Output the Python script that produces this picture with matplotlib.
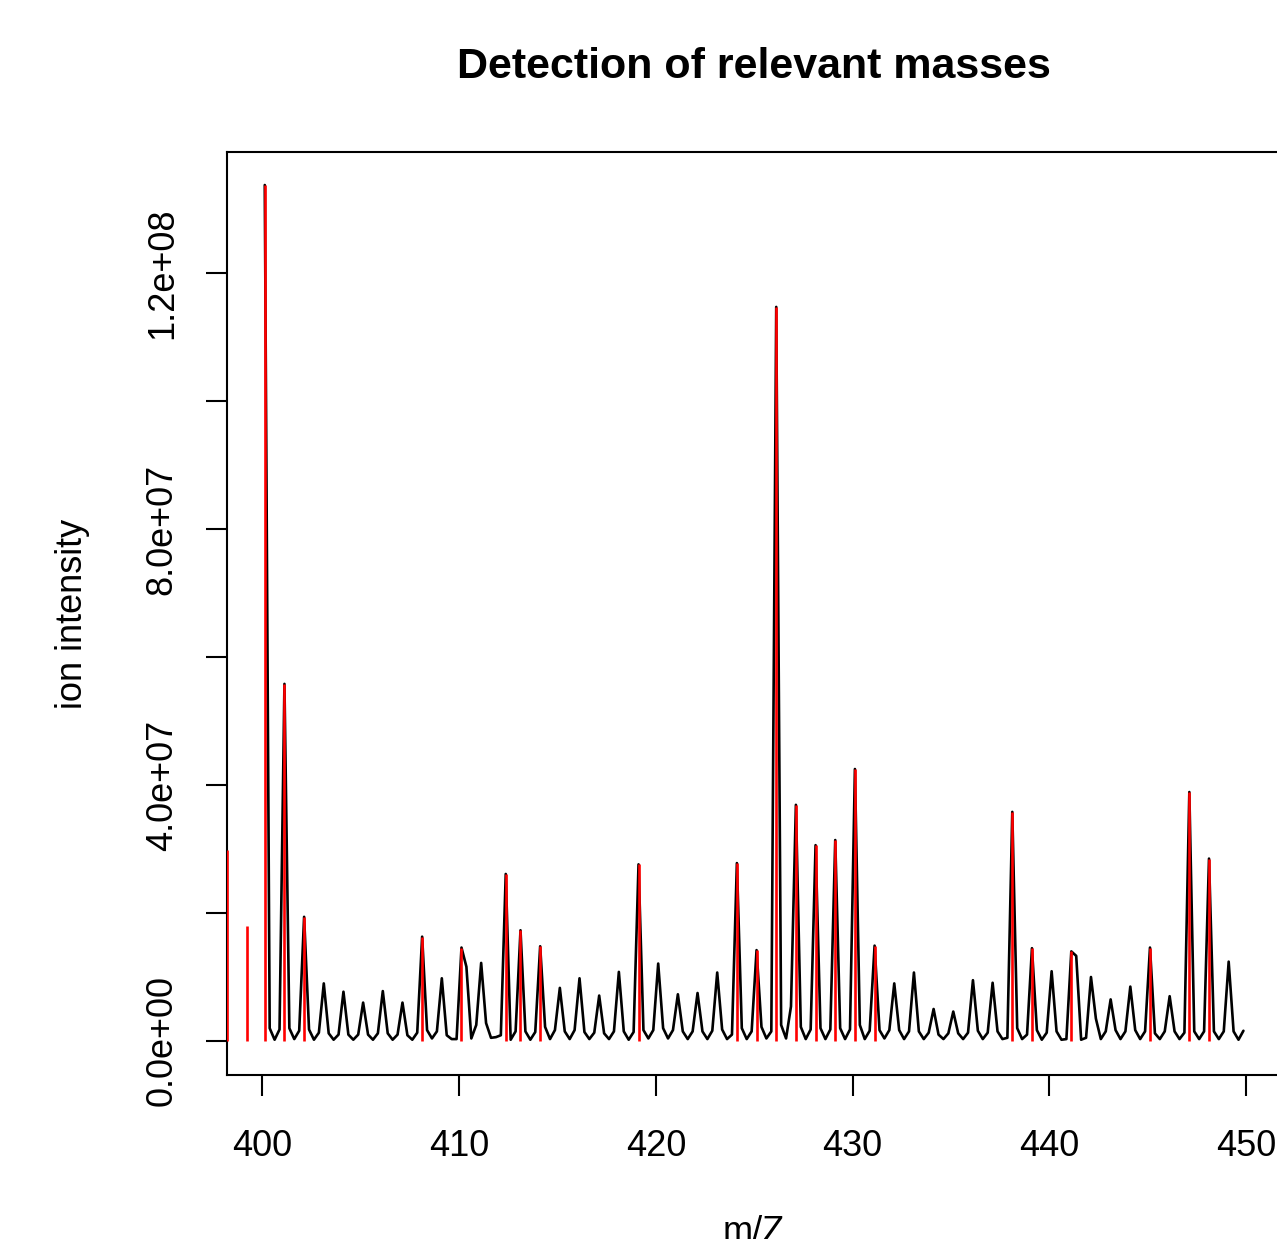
import numpy as np
import matplotlib
matplotlib.use("Agg")
import matplotlib.pyplot as plt
from matplotlib.ticker import FixedLocator, FuncFormatter

plt.rcParams['font.family'] = ['Liberation Sans', 'DejaVu Sans']

# ---------------- data ----------------
# profile spectrum sampled every 0.25 m/z, starting at 400.12
mz_start = 400.12
mz_step = 0.25
# intensities (units of 1e6) grouped per nominal mass 400 .. 449, 4 samples each
intensity_groups = [
    [133.75, 2.0, 0.2, 1.8],   # 400
    [55.8, 2.0, 0.3, 1.6],     # 401
    [19.4, 1.8, 0.2, 1.3],     # 402
    [9.0, 1.2, 0.2, 1.0],      # 403
    [7.7, 1.0, 0.2, 1.0],      # 404
    [6.0, 1.0, 0.2, 1.2],      # 405
    [7.8, 1.2, 0.2, 1.0],      # 406
    [6.0, 0.9, 0.2, 1.3],      # 407
    [16.3, 1.7, 0.4, 1.5],     # 408
    [9.8, 0.9, 0.3, 0.3],      # 409
    [14.6, 11.6, 0.4, 2.5],    # 410
    [12.2, 2.8, 0.5, 0.6],     # 411
    [0.9, 26.1, 0.2, 1.5],     # 412
    [17.3, 1.5, 0.2, 1.4],     # 413
    [14.8, 2.2, 0.3, 1.7],     # 414
    [8.3, 1.5, 0.3, 1.7],      # 415
    [9.8, 1.4, 0.3, 1.3],      # 416
    [7.1, 1.2, 0.3, 1.5],      # 417
    [10.8, 1.5, 0.2, 1.4],     # 418
    [27.6, 1.7, 0.4, 1.7],     # 419
    [12.1, 2.0, 0.4, 1.7],     # 420
    [7.3, 1.5, 0.3, 1.5],      # 421
    [7.5, 1.5, 0.3, 1.6],      # 422
    [10.7, 1.8, 0.3, 1.0],     # 423
    [27.8, 2.0, 0.3, 1.5],     # 424
    [14.2, 2.2, 0.4, 1.5],     # 425
    [114.7, 2.5, 0.4, 5.4],    # 426
    [36.9, 2.2, 0.3, 1.8],     # 427
    [30.6, 2.0, 0.3, 1.8],     # 428
    [31.4, 2.0, 0.3, 1.8],     # 429
    [42.5, 2.5, 0.3, 1.6],     # 430
    [14.9, 1.7, 0.4, 1.7],     # 431
    [9.0, 1.7, 0.3, 1.5],      # 432
    [10.7, 1.5, 0.3, 1.3],     # 433
    [5.0, 1.0, 0.3, 1.2],      # 434
    [4.6, 1.2, 0.3, 1.3],      # 435
    [9.5, 1.6, 0.3, 1.3],      # 436
    [9.1, 1.5, 0.3, 0.5],      # 437
    [35.8, 2.0, 0.3, 1.0],     # 438
    [14.5, 1.7, 0.2, 1.3],     # 439
    [10.9, 1.5, 0.2, 0.3],     # 440
    [14.0, 13.3, 0.2, 0.5],    # 441
    [10.0, 3.5, 0.3, 1.5],     # 442
    [6.5, 1.7, 0.3, 1.5],      # 443
    [8.5, 1.7, 0.3, 1.5],      # 444
    [14.6, 1.2, 0.3, 1.5],     # 445
    [7.0, 1.5, 0.3, 1.3],      # 446
    [38.9, 1.5, 0.3, 1.5],     # 447
    [28.5, 1.5, 0.3, 1.5],     # 448
    [12.4, 1.5, 0.2, 1.6],     # 449
]

# detected relevant masses (red sticks)
relevant_mz = [398.22, 399.2, 400.12, 401.12, 402.12, 408.12, 410.12, 412.37,
               413.12, 414.12, 419.12, 424.12, 425.12, 426.12, 427.12, 428.12,
               429.12, 430.12, 431.12, 438.12, 439.12, 441.12, 445.12, 447.12,
               448.12]
relevant_int = [29.8, 18.0, 133.75, 55.8, 19.4, 16.3, 14.6, 26.1,
                17.3, 14.8, 27.6, 27.8, 14.2, 114.7, 36.9, 30.6,
                31.4, 42.5, 14.9, 35.8, 14.5, 14.0, 14.6, 38.9,
                28.5]

x_ticks = [400, 410, 420, 430, 440, 450]
y_ticks = [0, 2e7, 4e7, 6e7, 8e7, 1e8, 1.2e8]
y_labelled = [0, 4e7, 8e7, 1.2e8]

title = "Detection of relevant masses"
xlabel = "m/Z"
ylabel = "ion intensity"

# ---------------- build ----------------
intens = np.array(intensity_groups).ravel() * 1e6
mz = mz_start + mz_step * np.arange(len(intens))
rel_int = np.array(relevant_int) * 1e6

W, H = 1277, 1239
fig = plt.figure(figsize=(W / 100, H / 100), dpi=100)
fig.patch.set_facecolor("white")
ax = fig.add_axes([227 / W, (H - 1075) / H, (1281 - 227) / W, (1075 - 152) / H])

ax.plot(mz, intens, color="black", lw=1.9, solid_joinstyle="round",
        solid_capstyle="round", zorder=2)
ax.vlines(relevant_mz, 0, rel_int, color="#ff0000", lw=1.9, zorder=3)

ax.set_xlim(398.2, 451.78)
ax.set_ylim(-34 / 6.4 * 1e6, (1041 - 152) / 6.4 * 1e6)

ax.xaxis.set_major_locator(FixedLocator(x_ticks))
ax.yaxis.set_major_locator(FixedLocator(y_ticks))
ax.xaxis.set_major_formatter(FuncFormatter(lambda v, p: f"{v:.0f}"))


def yfmt(v, p):
    if any(abs(v - t) < 1 for t in y_labelled):
        return f"{v:.1e}"
    return ""


ax.yaxis.set_major_formatter(FuncFormatter(yfmt))

for sp in ax.spines.values():
    sp.set_linewidth(1.5)
ax.tick_params(axis="both", direction="out", length=15, width=1.5,
               labelsize=26, color="black")
ax.tick_params(axis="x", pad=24)
ax.tick_params(axis="y", pad=19, labelrotation=90)
for lab in ax.get_yticklabels():
    lab.set_verticalalignment("center")

ax.set_title(title, fontsize=31, fontweight="bold", y=1.080, pad=0)
ax.set_xlabel(xlabel, fontsize=26)
ax.xaxis.set_label_coords(0.5, (1075 - 1215) / 923)
ax.set_ylabel(ylabel, fontsize=26)
ax.yaxis.set_label_coords((90 - 227) / 1054, 0.5)

fig.savefig("out.png", dpi=100, facecolor="white")
